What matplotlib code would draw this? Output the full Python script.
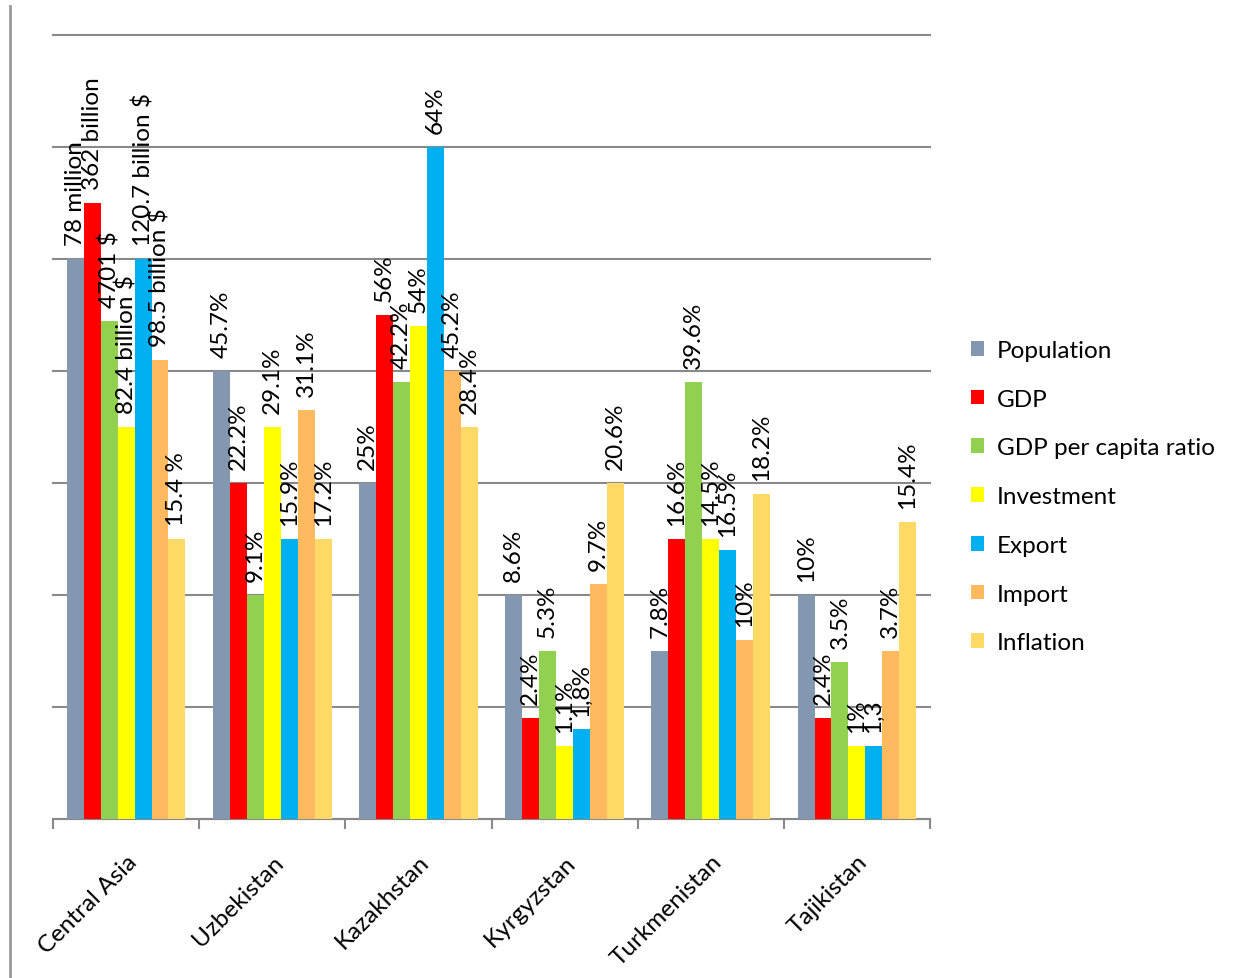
import numpy as np
import matplotlib
matplotlib.use("Agg")
import matplotlib.pyplot as plt
from matplotlib.patches import Patch
from matplotlib.lines import Line2D

plt.rcParams['font.family'] = ['Lato', 'DejaVu Sans']

# categories and series (bar heights as drawn, in grid units)
countries = ["Central Asia", "Uzbekistan", "Kazakhstan", "Kyrgyzstan", "Turkmenistan", "Tajikistan"]
series_names = ["Population", "GDP", "GDP per capita ratio", "Investment", "Export", "Import", "Inflation"]

population = [5.0, 4.0, 3.0, 2.0, 1.5, 2.0]
gdp = [5.5, 3.0, 4.5, 0.9, 2.5, 0.9]
gdp_per_capita = [4.45, 2.0, 3.9, 1.5, 3.9, 1.4]
investment = [3.5, 3.5, 4.4, 0.65, 2.5, 0.65]
export = [5.0, 2.5, 6.0, 0.8, 2.4, 0.65]
import_ = [4.1, 3.65, 4.0, 2.1, 1.6, 1.5]
inflation = [2.5, 2.5, 3.5, 3.0, 2.9, 2.65]

# labels written above the bars
population_lbl = ["78 million", "45.7%", "25%", "8.6%", "7.8%", "10%"]
gdp_lbl = ["362 billion", "22.2%", "56%", "2.4%", "16.6%", "2.4%"]
gdp_per_capita_lbl = ["4701 $", "9.1%", "42.2%", "5.3%", "39.6%", "3.5%"]
investment_lbl = ["82.4 billion $", "29.1%", "54%", "1.1%", "14.5%", "1%"]
export_lbl = ["120.7 billion $", "15.9%", "64%", "1,8%", "16.5%", "1,3"]
import_lbl = ["98.5 billion $", "31.1%", "45.2%", "9.7%", "10%", "3.7%"]
inflation_lbl = ["15.4 %", "17.2%", "28.4%", "20.6%", "18.2%", "15.4%"]

colors = ["#8497B0", "#FF0000", "#92D050", "#FFFF00", "#00B0F0", "#FFB95E", "#FFD966"]

values = [population, gdp, gdp_per_capita, investment, export, import_, inflation]
labels = [population_lbl, gdp_lbl, gdp_per_capita_lbl, investment_lbl, export_lbl, import_lbl, inflation_lbl]

grid_col = "#898989"
fs = 17.5

fig = plt.figure(figsize=(12.34, 9.79), dpi=100)
ax = fig.add_axes([53/1234, 1-820/979, (930-53)/1234, (820-36)/979])

x = np.arange(len(countries)) + 0.5
w = 0.116
for j in range(len(values)):
    xs = x + (j - 3) * w
    ax.bar(xs, values[j], width=w, color=colors[j], zorder=3)
    for xi, v, t in zip(xs, values[j], labels[j]):
        ax.annotate(t, (xi, v), xytext=(0, 10), textcoords="offset points",
                    rotation=90, ha="center", va="bottom", fontsize=fs, zorder=4)

ax.set_xlim(0, 6)
ax.set_ylim(0, 7)
ax.set_yticks(range(8))
ax.yaxis.grid(True, color=grid_col, linewidth=1.5, zorder=0)
for gl in ax.get_ygridlines():
    gl.set_clip_on(False)
ax.tick_params(axis="y", left=False, labelleft=False)

ax.set_xticks(range(7))
ax.set_xticklabels([])
ax.tick_params(axis="x", which="major", length=7, width=1.5, color=grid_col, direction="out")
ax.set_xticks(x, minor=True)
ax.set_xticklabels(countries, minor=True, rotation=45, ha="right", rotation_mode="anchor", fontsize=fs)
ax.tick_params(axis="x", which="minor", length=0, pad=23)

for s in ["left", "right", "top"]:
    ax.spines[s].set_visible(False)
ax.spines["bottom"].set_color(grid_col)
ax.spines["bottom"].set_linewidth(1.5)

# left border line of the picture
fig.add_artist(Line2D([10/1234, 10/1234], [0, 1-7/979], color="#9a9a9a", linewidth=2))

handles = [Patch(facecolor=c, edgecolor="none") for c in colors]
fig.legend(handles, series_names, loc="upper left", bbox_to_anchor=(971/1234, 1-341/979),
           frameon=False, fontsize=fs, handlelength=0.55, handleheight=0.55,
           handletextpad=0.5, labelspacing=1.14, borderaxespad=0, borderpad=0)

fig.savefig("out.png", dpi=100)
